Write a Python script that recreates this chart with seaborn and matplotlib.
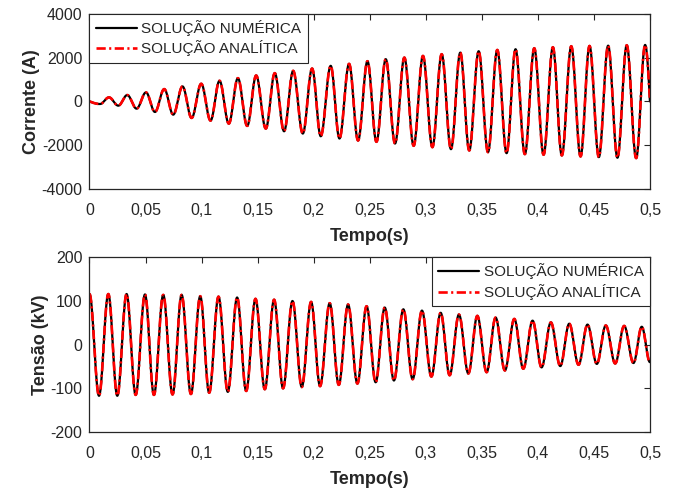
import numpy as np
import pandas as pd
import matplotlib
matplotlib.use("Agg")
import matplotlib.pyplot as plt
import seaborn as sns

# extremos (picos e vales) - corrente
t_corr = [0.0, 0.0094, 0.0174, 0.0257, 0.0337, 0.0420, 0.0504, 0.0584, 0.0667, 0.0747, 0.0830,
          0.0911, 0.0997, 0.1080, 0.1160, 0.1243, 0.1324, 0.1407, 0.1487, 0.1573, 0.1653,
          0.1736, 0.1817, 0.1903, 0.1986, 0.2063, 0.2152, 0.2230, 0.2316, 0.2396, 0.2480,
          0.2560, 0.2643, 0.2726, 0.2809, 0.2892, 0.2975, 0.3059, 0.3142, 0.3225, 0.3308,
          0.3388, 0.3472, 0.3555, 0.3638, 0.3721, 0.3801, 0.3884, 0.3968, 0.4051, 0.4134,
          0.4214, 0.4298, 0.4381, 0.4461, 0.4544, 0.4627, 0.4710, 0.4793, 0.4877, 0.4957, 0.5]
i_corr = [0, -120, 183, -195, 290, -332, 410, -483, 562, -605, 683,
          -756, 805, -877, 941, -1014, 1062, -1120, 1183, -1241, 1290,
          -1364, 1395, -1468, 1500, -1591, 1623, -1695, 1714, -1786, 1835,
          -1845, 1927, -1923, 2000, -2027, 2077, -2091, 2155, -2182, 2227,
          -2241, 2291, -2318, 2350, -2364, 2382, -2409, 2427, -2436, 2473,
          -2468, 2518, -2514, 2532, -2545, 2545, -2573, 2564, -2591, 2577, 0]

# extremos - tensao (kV)
t_tens = [0.0, 0.0085, 0.0168, 0.0248, 0.0331, 0.0412, 0.0495, 0.0575, 0.0658, 0.0741, 0.0822,
          0.0905, 0.0988, 0.1068, 0.1151, 0.1234, 0.1317, 0.1398, 0.1481, 0.1564, 0.1647,
          0.1727, 0.1811, 0.1894, 0.1977, 0.2057, 0.2143, 0.2224, 0.2307, 0.2390, 0.2472,
          0.2553, 0.2634, 0.2716, 0.2800, 0.2883, 0.2966, 0.3050, 0.3133, 0.3213, 0.3296,
          0.3380, 0.3460, 0.3543, 0.3623, 0.3706, 0.3790, 0.3870, 0.3953, 0.4033, 0.4116,
          0.4200, 0.4280, 0.4363, 0.4443, 0.4526, 0.4606, 0.4690, 0.4770, 0.4853, 0.4927, 0.5]
v_tens = [116, -117, 116, -117, 116, -115, 115, -115, 114, -114, 114,
          -113, 111, -110, 110, -108, 108, -106, 105, -102, 103,
          -100, 100, -97, 98, -95, 95, -92, 92, -89, 88,
          -86, 85, -82, 81, -79, 78, -73, 73, -70, 69,
          -66, 66, -63, 62, -59, 59, -55, 55, -52, 51,
          -49, 48, -46, 46, -44, 44, -43, 43, -42, 41, -40]

x_ticks = [0, 0.05, 0.1, 0.15, 0.2, 0.25, 0.3, 0.35, 0.4, 0.45, 0.5]
lab_num = "SOLUÇÃO NUMÉRICA"
lab_ana = "SOLUÇÃO ANALÍTICA"


def onda(tp, vp, ini=False, fim=False, n=30):
    # liga os extremos com meias-ondas de cosseno
    tt, vv = [], []
    ult = len(tp) - 2
    for k in range(len(tp) - 1):
        s = np.linspace(0, 1, n, endpoint=False)
        if k == 0 and ini:
            w = np.sin(np.pi / 2 * s)
        elif k == ult and fim:
            w = 1 - np.cos(np.pi / 2 * s)
        else:
            w = (1 - np.cos(np.pi * s)) / 2
        tt.append(tp[k] + (tp[k + 1] - tp[k]) * s)
        vv.append(vp[k] + (vp[k + 1] - vp[k]) * w)
    tt.append([tp[-1]])
    vv.append([vp[-1]])
    return np.concatenate(tt), np.concatenate(vv)


tc, ic = onda(t_corr, i_corr, ini=True, fim=True)
tv, vv = onda(t_tens, v_tens)
df_c = pd.DataFrame({"t": tc, "y": ic})
df_v = pd.DataFrame({"t": tv, "y": vv})

sns.set_style("white")
plt.rcParams['font.family'] = ['Liberation Sans', 'DejaVu Sans']

fig = plt.figure(figsize=(6.81, 4.91), dpi=100)
ax1 = fig.add_axes([0.1314, 0.615, 0.823, 0.357])
ax2 = fig.add_axes([0.1314, 0.120, 0.823, 0.356])

dd = (0, (3.5, 1.3, 0.8, 1.3))
for ax, df, ylab, lim, yt, loc in [
        (ax1, df_c, "Corrente (A)", (-4000, 4000), [-4000, -2000, 0, 2000, 4000], "upper left"),
        (ax2, df_v, "Tensão (kV)", (-200, 200), [-200, -100, 0, 100, 200], "upper right")]:
    sns.lineplot(data=df, x="t", y="y", ax=ax, color="black", lw=1.6,
                 estimator=None, sort=False, label=lab_num)
    sns.lineplot(data=df, x="t", y="y", ax=ax, color="red", lw=1.9,
                 estimator=None, sort=False, label=lab_ana, linestyle=dd)
    ax.set_xlim(0, 0.5)
    ax.set_ylim(*lim)
    ax.set_xticks(x_ticks)
    ax.set_xticklabels([f"{v:g}".replace(".", ",") for v in x_ticks])
    ax.set_yticks(yt)
    ax.set_yticklabels([str(v) for v in yt])
    ax.tick_params(direction="in", top=True, right=True, length=4, width=0.8,
                   labelsize=11.5, colors="#262626", labelcolor="#262626")
    ax.tick_params(axis="x", pad=10)
    ax.tick_params(axis="y", pad=5)
    for sp in ax.spines.values():
        sp.set_color("#262626")
        sp.set_linewidth(0.9)
    ax.set_xlabel("Tempo(s)", fontsize=13, fontweight="bold", color="#262626", labelpad=7)
    ax.set_ylabel(ylab, fontsize=13, fontweight="bold", color="#262626", labelpad=1)
    leg = ax.legend(loc=loc, fontsize=11, fancybox=False, framealpha=1,
                    edgecolor="#262626", borderaxespad=0, handlelength=2.7,
                    handletextpad=0.3, borderpad=0.4, labelspacing=0.3)
    leg.get_frame().set_linewidth(0.8)

fig.savefig("out.png", dpi=100)
